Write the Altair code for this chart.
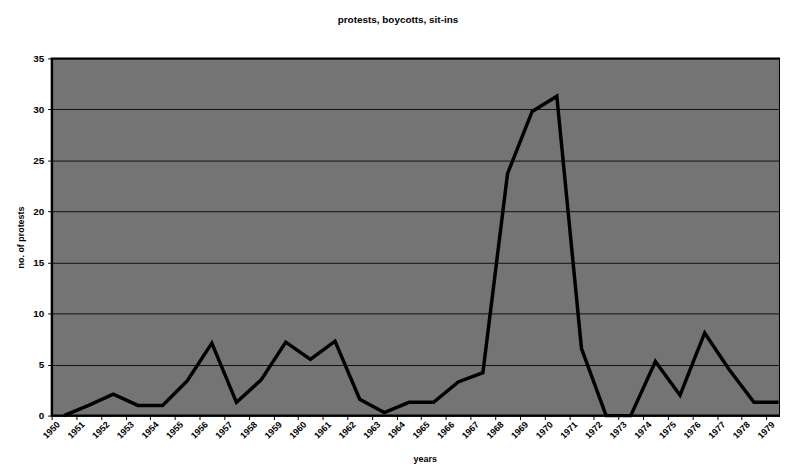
import altair as alt
import pandas as pd

years = [str(y) for y in range(1950, 1980)]
protests = [0, 1, 2.1, 1, 1, 3.4, 7.1, 1.3, 3.5, 7.2,
            5.5, 7.3, 1.6, 0.3, 1.3, 1.3, 3.3, 4.2, 23.7, 29.8,
            31.3, 6.6, 0, 0, 5.3, 2, 8.1, 4.5, 1.3, 1.3]
y_ticks = [0, 5, 10, 15, 20, 25, 30, 35]

df = pd.DataFrame({"year": years, "protests": protests})

FONT = "Liberation Sans"

line = alt.Chart(df).mark_line(color="black", strokeWidth=3.5, strokeJoin="miter").encode(
    x=alt.X(
        "year:O",
        sort=years,
        bandPosition=0.5,
        scale=alt.Scale(type="band", paddingInner=0, paddingOuter=0, range=[0, 745]),
        axis=alt.Axis(
            title="years",
            labelAngle=-45,
            labelAlign="right",
            labelBaseline="middle",
            labelOffset=-6,
            labelPadding=3,
            labelFont=FONT,
            labelFontWeight="bold",
            labelFontSize=9,
            labelColor="black",
            tickBand="extent",
            tickSize=4,
            tickColor="black",
            domainColor="black",
            domainWidth=1.5,
            titleFont=FONT,
            titleFontWeight="bold",
            titleFontSize=9,
            titleColor="black",
            titleX=376,
            titleY=43,
            titleBaseline="middle",
            titleAlign="center",
        ),
    ),
    y=alt.Y(
        "protests:Q",
        scale=alt.Scale(domain=[0, 35], nice=False),
        axis=alt.Axis(
            title="no. of protests",
            values=y_ticks,
            labelFont=FONT,
            labelFontWeight="bold",
            labelFontSize=10,
            labelColor="black",
            labelPadding=4,
            tickSize=4,
            tickColor="black",
            domainColor="black",
            domainWidth=2,
            grid=True,
            gridColor="black",
            gridWidth=1,
            gridOpacity=0.85,
            titleFont=FONT,
            titleFontWeight="bold",
            titleFontSize=9,
            titleColor="black",
            titleX=-31,
            titleY=180,
            titleAngle=270,
            titleAlign="center",
            titleBaseline="middle",
        ),
    ),
)

chart = line.properties(
    width=734,
    height=360,
    background="white",
    title=alt.TitleParams(
        "protests, boycotts, sit-ins",
        font=FONT,
        fontSize=10,
        fontWeight="bold",
        color="black",
        frame="group",
        anchor="middle",
        dx=-18,
        offset=29,
    ),
    autosize=alt.AutoSizeParams(type="none"),
    padding={"left": 44, "top": 49, "right": 0, "bottom": 49},
).configure_view(
    fill="#747474",
    stroke="black",
    strokeWidth=2,
)

chart.save("out.html", embed_options={"renderer": "svg", "actions": False})
